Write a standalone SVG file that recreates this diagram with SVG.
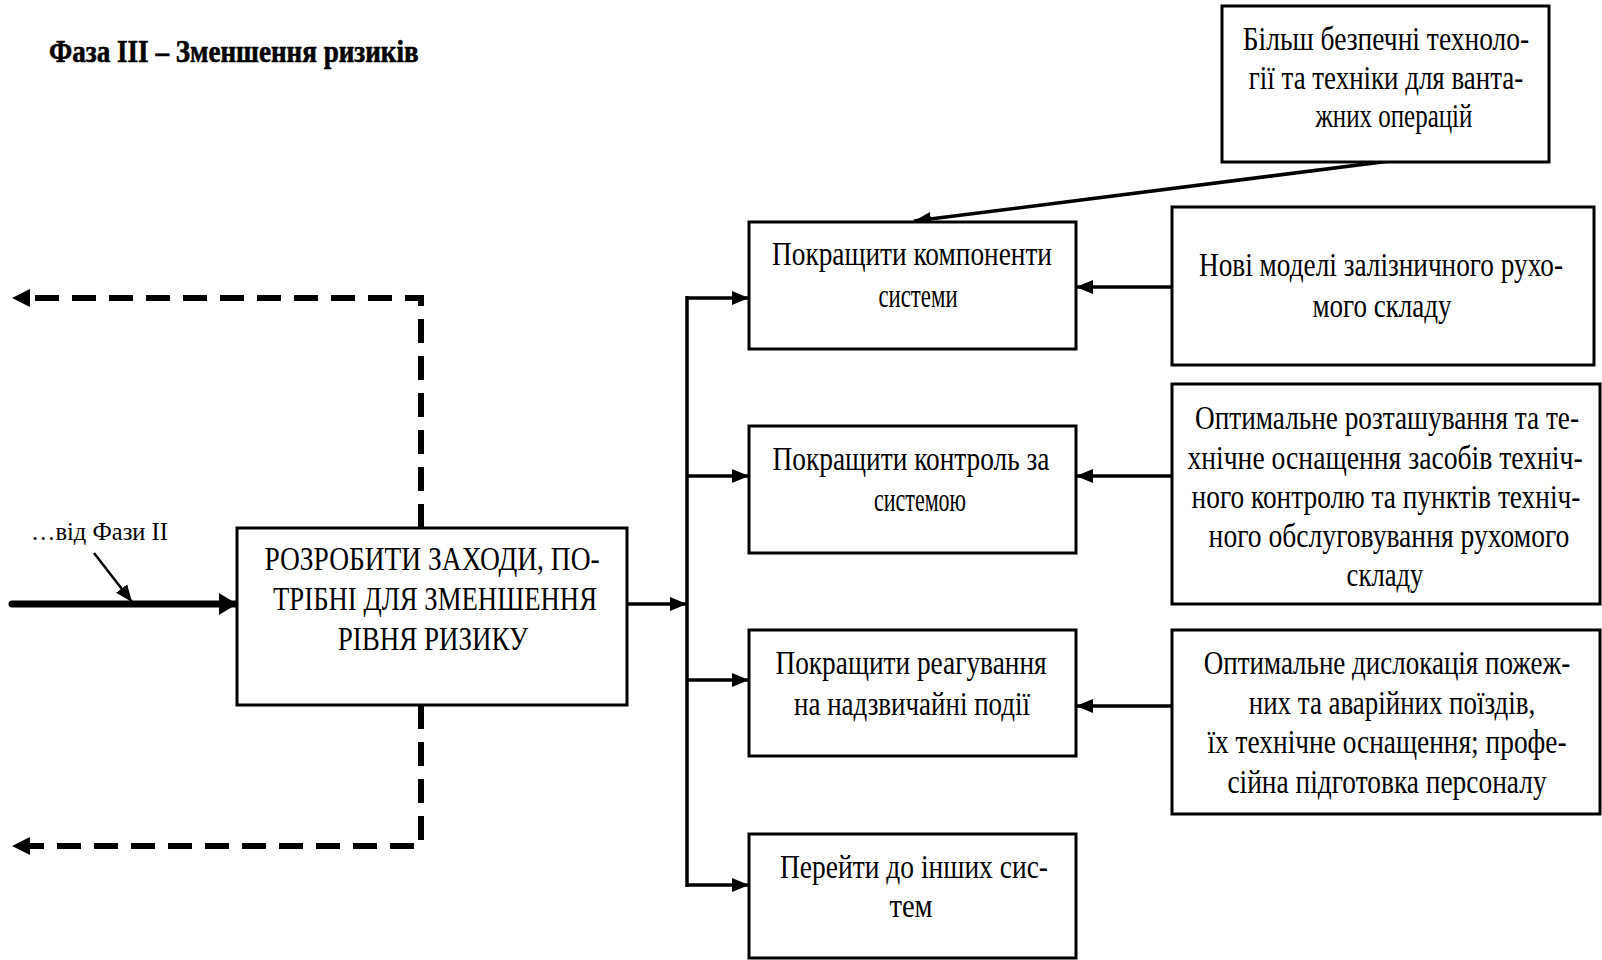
<svg xmlns="http://www.w3.org/2000/svg" width="1602" height="960" viewBox="0 0 1602 960">
<style>
.box{fill:#fff;stroke:#000;stroke-width:3}
.t{font-family:"Liberation Serif","Times New Roman",serif;font-size:34px;fill:#000;text-anchor:middle}
.title{font-family:"Liberation Serif","Times New Roman",serif;font-size:32px;font-weight:bold;fill:#000;stroke:#000;stroke-width:0.6}
.lbl{font-family:"Liberation Serif","Times New Roman",serif;font-size:26px;fill:#000}
.ln{fill:none;stroke:#000;stroke-width:3.5}
.dash{fill:none;stroke:#000;stroke-width:6;stroke-dasharray:24 13}
</style>
<defs>
<marker id="ah" markerUnits="userSpaceOnUse" markerWidth="17" markerHeight="16" refX="17" refY="8" orient="auto">
<path d="M0,1 L17,8 L0,15 z" fill="#000"/>
</marker>
<marker id="ahBig" markerUnits="userSpaceOnUse" markerWidth="18" markerHeight="22" refX="18" refY="11" orient="auto">
<path d="M0,0 L18,11 L0,22 z" fill="#000"/>
</marker>
<marker id="ahDash" markerUnits="userSpaceOnUse" markerWidth="18" markerHeight="20" refX="2" refY="10" orient="auto">
<path d="M0,1 L18,10 L0,19 z" fill="#000"/>
</marker>
</defs>
<rect width="1602" height="960" fill="#fff"/>
<text class="title" transform="translate(49,62) scale(0.8,1)" textLength="462" lengthAdjust="spacingAndGlyphs">Фаза ІІІ – Зменшення ризиків</text>
<text class="lbl" transform="translate(31,540) scale(0.85,1)" textLength="161" lengthAdjust="spacingAndGlyphs">…від Фази ІІ</text>
<g id="connectors">
<path class="dash" d="M421,528 L421,298 L28,298" marker-end="url(#ahDash)"/>
<path class="dash" d="M421,705 L421,846 L28,846" marker-end="url(#ahDash)"/>
<line x1="12" y1="604" x2="237" y2="604" stroke="#000" stroke-width="7" stroke-linecap="round" marker-end="url(#ahBig)"/>
<line x1="94" y1="553" x2="132" y2="602" stroke="#000" stroke-width="2.5" marker-end="url(#ah)"/>
<line class="ln" x1="627" y1="604" x2="687" y2="604" marker-end="url(#ah)"/>
<line class="ln" x1="687" y1="296" x2="687" y2="887"/>
<line class="ln" x1="686" y1="298" x2="749" y2="298" marker-end="url(#ah)"/>
<line class="ln" x1="686" y1="476" x2="749" y2="476" marker-end="url(#ah)"/>
<line class="ln" x1="686" y1="680" x2="749" y2="680" marker-end="url(#ah)"/>
<line class="ln" x1="686" y1="885" x2="749" y2="885" marker-end="url(#ah)"/>
<line class="ln" x1="1172" y1="287" x2="1076" y2="287" stroke-width="4" marker-end="url(#ah)"/>
<line class="ln" x1="1172" y1="476" x2="1076" y2="476" stroke-width="4" marker-end="url(#ah)"/>
<line class="ln" x1="1172" y1="706" x2="1076" y2="706" stroke-width="4" marker-end="url(#ah)"/>
<line class="ln" x1="1390" y1="161" x2="914" y2="221" marker-end="url(#ah)"/>
</g>
<g id="node-main">
<rect class="box" x="237" y="528" width="390" height="177"/>
<text class="t" transform="translate(432,570) scale(0.8,1)" textLength="419" lengthAdjust="spacingAndGlyphs">РОЗРОБИТИ ЗАХОДИ, ПО-</text>
<text class="t" transform="translate(435,610) scale(0.8,1)" textLength="405" lengthAdjust="spacingAndGlyphs">ТРІБНІ ДЛЯ ЗМЕНШЕННЯ</text>
<text class="t" transform="translate(433,650) scale(0.8,1)" textLength="238" lengthAdjust="spacingAndGlyphs">РІВНЯ РИЗИКУ</text>
</g>
<g id="node-a">
<rect class="box" x="749" y="222" width="327" height="127"/>
<text class="t" transform="translate(912,265) scale(0.8,1)" textLength="350" lengthAdjust="spacingAndGlyphs">Покращити компоненти</text>
<text class="t" transform="translate(918,307) scale(0.8,1)" textLength="99" lengthAdjust="spacingAndGlyphs">системи</text>
</g>
<g id="node-b">
<rect class="box" x="749" y="426" width="327" height="127"/>
<text class="t" transform="translate(911,470) scale(0.8,1)" textLength="346" lengthAdjust="spacingAndGlyphs">Покращити контроль за</text>
<text class="t" transform="translate(920,511) scale(0.8,1)" textLength="115" lengthAdjust="spacingAndGlyphs">системою</text>
</g>
<g id="node-c">
<rect class="box" x="749" y="630" width="327" height="126"/>
<text class="t" transform="translate(911,674) scale(0.8,1)" textLength="339" lengthAdjust="spacingAndGlyphs">Покращити реагування</text>
<text class="t" transform="translate(912,715) scale(0.8,1)" textLength="295" lengthAdjust="spacingAndGlyphs">на надзвичайні події</text>
</g>
<g id="node-d">
<rect class="box" x="749" y="834" width="327" height="124"/>
<text class="t" transform="translate(914,878) scale(0.8,1)" textLength="335" lengthAdjust="spacingAndGlyphs">Перейти до інших сис-</text>
<text class="t" transform="translate(911,917) scale(0.8,1)" textLength="54" lengthAdjust="spacingAndGlyphs">тем</text>
</g>
<g id="node-e">
<rect class="box" x="1222" y="6" width="327" height="156"/>
<text class="t" transform="translate(1386,50) scale(0.8,1)" textLength="358" lengthAdjust="spacingAndGlyphs">Більш безпечні техноло-</text>
<text class="t" transform="translate(1386,89) scale(0.8,1)" textLength="343" lengthAdjust="spacingAndGlyphs">гії та техніки для ванта-</text>
<text class="t" transform="translate(1394,127) scale(0.8,1)" textLength="196" lengthAdjust="spacingAndGlyphs">жних операцій</text>
</g>
<g id="node-f">
<rect class="box" x="1172" y="207" width="422" height="158"/>
<text class="t" transform="translate(1381,276) scale(0.8,1)" textLength="455" lengthAdjust="spacingAndGlyphs">Нові моделі залізничного рухо-</text>
<text class="t" transform="translate(1382,317) scale(0.8,1)" textLength="174" lengthAdjust="spacingAndGlyphs">мого складу</text>
</g>
<g id="node-g">
<rect class="box" x="1172" y="384" width="428" height="220"/>
<text class="t" transform="translate(1387,429) scale(0.8,1)" textLength="480" lengthAdjust="spacingAndGlyphs">Оптимальне розташування та те-</text>
<text class="t" transform="translate(1385,469) scale(0.8,1)" textLength="494" lengthAdjust="spacingAndGlyphs">хнічне оснащення засобів техніч-</text>
<text class="t" transform="translate(1386,508) scale(0.8,1)" textLength="486" lengthAdjust="spacingAndGlyphs">ного контролю та пунктів техніч-</text>
<text class="t" transform="translate(1389,547) scale(0.8,1)" textLength="451" lengthAdjust="spacingAndGlyphs">ного обслуговування рухомого</text>
<text class="t" transform="translate(1385,586) scale(0.8,1)" textLength="96" lengthAdjust="spacingAndGlyphs">складу</text>
</g>
<g id="node-h">
<rect class="box" x="1172" y="630" width="428" height="184"/>
<text class="t" transform="translate(1387,674) scale(0.8,1)" textLength="458" lengthAdjust="spacingAndGlyphs">Оптимальне дислокація пожеж-</text>
<text class="t" transform="translate(1392,714) scale(0.8,1)" textLength="358" lengthAdjust="spacingAndGlyphs">них та аварійних поїздів,</text>
<text class="t" transform="translate(1387,753) scale(0.8,1)" textLength="449" lengthAdjust="spacingAndGlyphs">їх технічне оснащення; профе-</text>
<text class="t" transform="translate(1387,793) scale(0.8,1)" textLength="399" lengthAdjust="spacingAndGlyphs">сійна підготовка персоналу</text>
</g>
</svg>
